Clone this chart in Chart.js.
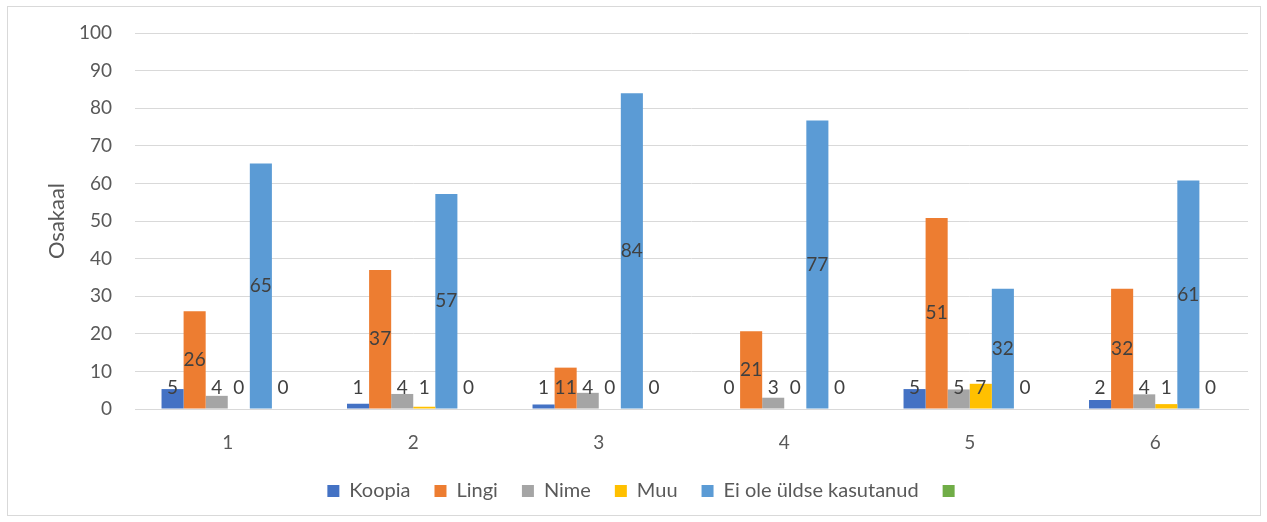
<!DOCTYPE html>
<html>
<head>
<meta charset="utf-8">
<script src="https://cdn.jsdelivr.net/npm/chart.js@4"></script>
<style>
  html, body { margin: 0; padding: 0; background: #fff; }
  #box { position: absolute; left: 7px; top: 6px; width: 1252px; height: 508px; border: 1px solid #d9d9d9; }
  canvas { display: block; }
</style>
</head>
<body>
<div id="box"><canvas id="myChart" width="1252" height="508"></canvas></div>
<script>
let categories = ['1', '2', '3', '4', '5', '6'];
let seriesNames = ['Koopia', 'Lingi', 'Nime', 'Muu', 'Ei ole üldse kasutanud', ''];
let koopia = [5.3, 1.4, 1.2, 0, 5.3, 2.4];
let lingi = [26, 37, 11, 20.7, 50.8, 32];
let nime = [3.5, 4, 4.3, 3, 5.2, 3.9];
let muu = [0, 0.6, 0, 0, 6.7, 1.3];
let eiOle = [65.3, 57.2, 84, 76.7, 32, 60.8];
let roheline = [0, 0, 0, 0, 0, 0];
let yTicks = [0, 10, 20, 30, 40, 50, 60, 70, 80, 90, 100];

let colors = ['#4472C4', '#ED7D31', '#A5A5A5', '#FFC000', '#5B9BD5', '#70AD47'];
let allSeries = [koopia, lingi, nime, muu, eiOle, roheline];

let fontName = 'Lato, "Liberation Sans", sans-serif';

// labels in the middle of each bar, kept above the axis for small bars
let barLabels = {
    id: 'barLabels',
    afterDatasetsDraw(chart) {
        let ctx = chart.ctx;
        ctx.save();
        ctx.font = '19px ' + fontName;
        ctx.fillStyle = '#404040';
        ctx.textAlign = 'center';
        ctx.textBaseline = 'middle';
        chart.data.datasets.forEach((ds, i) => {
            let meta = chart.getDatasetMeta(i);
            meta.data.forEach((bar, j) => {
                let mid = (bar.y + bar.base) / 2;
                let y = Math.min(mid, bar.base - 21);
                ctx.fillText(String(Math.round(ds.data[j])), bar.x, y);
            });
        });
        ctx.restore();
    }
};

// nudge the legend a little to the right, like the original
let legendShift = {
    id: 'legendShift',
    afterLayout(chart) {
        chart.legend.left += 18;
        chart.legend.right += 18;
    }
};

let datasets = [];
for (let i = 0; i < allSeries.length; i++) {
    datasets.push({
        label: seriesNames[i],
        data: allSeries[i],
        backgroundColor: colors[i],
        borderWidth: 0,
        categoryPercentage: 0.714,
        barPercentage: 1.0
    });
}

let ctx = document.getElementById('myChart').getContext('2d');
let myChart = new Chart(ctx, {
    type: 'bar',
    data: {
        labels: categories,
        datasets: datasets
    },
    plugins: [barLabels, legendShift],
    options: {
        responsive: false,
        animation: false,
        layout: { padding: { top: 26, right: 12, bottom: 4, left: 0 } },
        plugins: {
            tooltip: { enabled: false },
            legend: {
                position: 'bottom',
                labels: {
                    boxWidth: 12,
                    boxHeight: 12,
                    padding: 24,
                    color: '#595959',
                    font: { family: fontName, size: 20 }
                }
            }
        },
        scales: {
            x: {
                grid: { display: false, drawTicks: false },
                border: { color: '#d9d9d9' },
                ticks: { color: '#595959', padding: 22, font: { family: fontName, size: 19 } },
                afterFit: s => { s.height = 48; }
            },
            y: {
                min: 0,
                max: 100,
                afterBuildTicks: s => { s.ticks = yTicks.map(v => ({ value: v })); },
                // invisible tick marks push the labels away from the plot
                grid: { color: '#d9d9d9', drawTicks: true, tickLength: 23, tickColor: 'rgba(0,0,0,0)' },
                border: { display: false },
                ticks: { color: '#595959', padding: 0, font: { family: fontName, size: 19 } },
                title: {
                    display: true,
                    text: 'Osakaal',
                    color: '#595959',
                    padding: { top: 36, bottom: 0 },
                    font: { family: fontName, size: 22 }
                },
                afterFit: s => { s.width = 127; }
            }
        }
    }
});
</script>
</body>
</html>
